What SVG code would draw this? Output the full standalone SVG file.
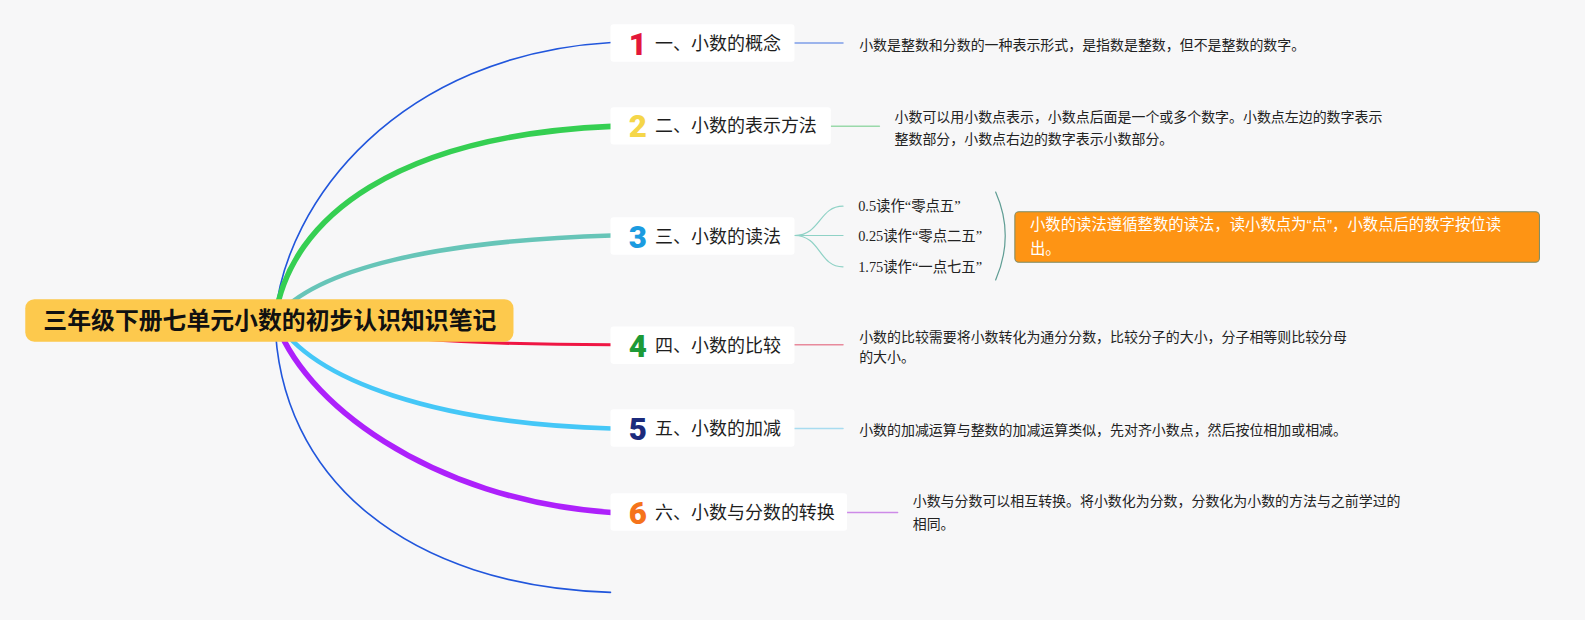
<svg xmlns="http://www.w3.org/2000/svg" width="1585" height="620" viewBox="0 0 1585 620">
<style>
.bg{fill:#f7f7f8}
.box{fill:#ffffff}
.lbl{font-family:"Noto Sans CJK SC","Noto Sans",sans-serif;font-size:17.8px;fill:#1e1e1e}
.num{font-family:Roboto,"Open Sans",sans-serif;font-size:31px;font-weight:900;text-anchor:middle}
.det{font-family:"Liberation Sans","Noto Sans CJK SC",sans-serif;font-size:13.8px;fill:#222}
.sub{font-family:"Liberation Serif","Noto Sans CJK SC",serif;font-size:14.2px;fill:#222}
.sum{font-family:"Liberation Sans","Noto Sans CJK SC",sans-serif;font-size:15.2px;fill:#ffffff}
</style>
<rect class="bg" x="0" y="0" width="1585" height="620"/>
<g transform="scale(1.0108)">
<g id="connectors" fill="none" stroke-linecap="round">
  <path d="M272,315 C282,198 396,54 605,42" stroke="#2156dc" stroke-width="1.6"/>
  <path d="M272,315 C287,213 396,134 605,125" stroke="#35cf52" stroke-width="5.5"/>
  <path d="M272,315 C312,265 435,238 605,233" stroke="#67c5b8" stroke-width="4.5"/>
  <path d="M272,315 C360,334 450,341 605,341" stroke="#ef1644" stroke-width="3"/>
  <path d="M272,315 C309,378 435,419 605,424" stroke="#45c7f7" stroke-width="4.5"/>
  <path d="M272,315 C297,396 425,495 605,507" stroke="#ad21fb" stroke-width="5.5"/>
  <path d="M272,315 C275,475 405,580 604,586" stroke="#2156dc" stroke-width="1.6"/>
  <path d="M786,42.5 H834" stroke="#7f9fe8" stroke-width="1.5"/>
  <path d="M822,125 H870" stroke="#9ad9aa" stroke-width="1.5"/>
  <path d="M786,233 C812,233 810,204 834,204" stroke="#8fd2c6" stroke-width="1.2"/>
  <path d="M786,233 H834" stroke="#8fd2c6" stroke-width="1.2"/>
  <path d="M786,233 C812,233 810,264 834,264" stroke="#8fd2c6" stroke-width="1.2"/>
  <path d="M985,190 Q1004,233 985,277" stroke="#5f9d94" stroke-width="1.2"/>
  <path d="M786,341 H834" stroke="#e88a9c" stroke-width="1.5"/>
  <path d="M786,424 H834" stroke="#a8dcf0" stroke-width="1.5"/>
  <path d="M838,507 H888" stroke="#cd8ae8" stroke-width="1.5"/>
</g>
<g id="root">
  <rect x="25" y="296" width="483" height="42" rx="9" fill="#fdc94d"/>
  <text x="267" y="325.5" text-anchor="middle" style="font-family:'Noto Sans CJK SC','Noto Sans',sans-serif;font-size:23.6px;font-weight:bold;fill:#111">三年级下册七单元小数的初步认识知识笔记</text>
</g>
<g id="node1">
  <rect class="box" x="604" y="24" width="182" height="37" rx="3"/>
  <text class="num" x="631" y="54" fill="#e3173a">1</text>
  <text class="lbl" x="648" y="49">一、小数的概念</text>
</g>
<g id="detail1">
  <text class="det" x="850" y="49">小数是整数和分数的一种表示形式，是指数是整数，但不是整数的数字。</text>
</g>
<g id="node2">
  <rect class="box" x="604" y="106" width="218" height="37" rx="3"/>
  <text class="num" x="631" y="136" fill="#f5d649">2</text>
  <text class="lbl" x="648" y="131">二、小数的表示方法</text>
</g>
<g id="detail2">
  <text class="det" x="885" y="121">小数可以用小数点表示，小数点后面是一个或多个数字。小数点左边的数字表示</text>
  <text class="det" x="885" y="142">整数部分，小数点右边的数字表示小数部分。</text>
</g>
<g id="node3">
  <rect class="box" x="604" y="215" width="182" height="37" rx="3"/>
  <text class="num" x="631" y="245" fill="#1b9be0">3</text>
  <text class="lbl" x="648" y="240">三、小数的读法</text>
</g>
<g id="sub3a"><text class="sub" x="849" y="209">0.5读作“零点五”</text></g>
<g id="sub3b"><text class="sub" x="849" y="238">0.25读作“零点二五”</text></g>
<g id="sub3c"><text class="sub" x="849" y="269">1.75读作“一点七五”</text></g>
<g id="summary3">
  <rect x="1004" y="209.5" width="519" height="50" rx="4" fill="#fe9414" stroke="#7c8c66" stroke-width="1"/>
  <text class="sum" x="1019" y="227.5">小数的读法遵循整数的读法，读小数点为“点”，小数点后的数字按位读</text>
  <text class="sum" x="1019" y="251">出。</text>
</g>
<g id="node4">
  <rect class="box" x="604" y="323" width="182" height="37" rx="3"/>
  <text class="num" x="631" y="353" fill="#1d9a37">4</text>
  <text class="lbl" x="648" y="348">四、小数的比较</text>
</g>
<g id="detail4">
  <text class="det" x="850" y="338">小数的比较需要将小数转化为通分分数，比较分子的大小，分子相等则比较分母</text>
  <text class="det" x="850" y="358">的大小。</text>
</g>
<g id="node5">
  <rect class="box" x="604" y="405" width="182" height="37" rx="3"/>
  <text class="num" x="631" y="435" fill="#1b2a7c">5</text>
  <text class="lbl" x="648" y="430">五、小数的加减</text>
</g>
<g id="detail5">
  <text class="det" x="850" y="430">小数的加减运算与整数的加减运算类似，先对齐小数点，然后按位相加或相减。</text>
</g>
<g id="node6">
  <rect class="box" x="604" y="488" width="234" height="37" rx="3"/>
  <text class="num" x="631" y="518" fill="#f5731b">6</text>
  <text class="lbl" x="648" y="513">六、小数与分数的转换</text>
</g>
<g id="detail6">
  <text class="det" x="903" y="501">小数与分数可以相互转换。将小数化为分数，分数化为小数的方法与之前学过的</text>
  <text class="det" x="903" y="523">相同。</text>
</g>
</g>
</svg>
